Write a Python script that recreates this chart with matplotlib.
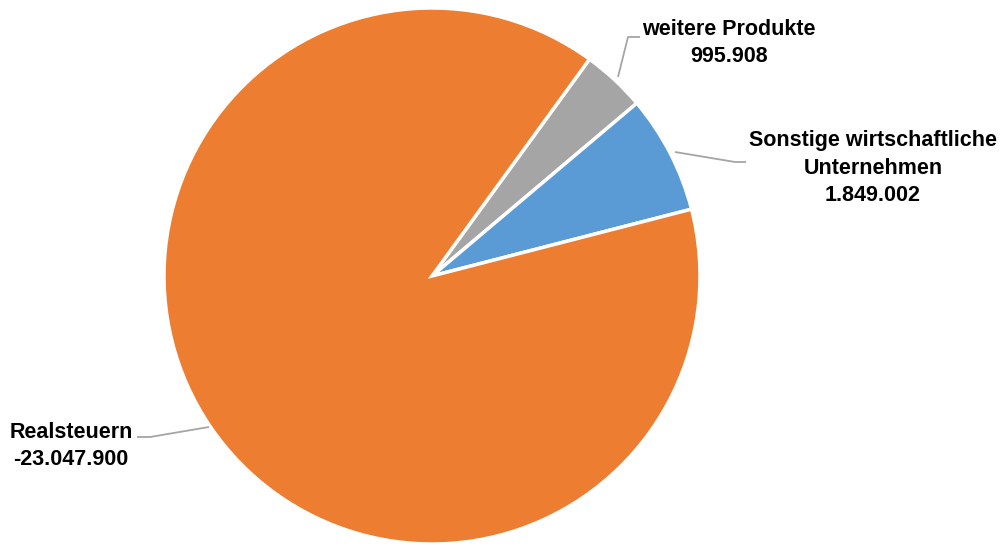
import matplotlib
matplotlib.use("Agg")
import matplotlib.pyplot as plt
import numpy as np

labels = ["weitere Produkte", "Sonstige wirtschaftliche\nUnternehmen", "Realsteuern"]
values = [995908, 1849002, -23047900]
value_texts = ["995.908", "1.849.002", "-23.047.900"]
colors = ["#A5A5A5", "#5B9BD5", "#ED7D31"]

W, H = 1008, 547
fig = plt.figure(figsize=(W / 100, H / 100), dpi=100)
ax = fig.add_axes([0, 0, 1, 1])

cx, cy, r = 432, H - 276, 268
sizes = np.abs(values)
ax.pie(sizes, colors=colors, startangle=54, counterclock=False,
       center=(cx, cy), radius=r, frame=True,
       wedgeprops=dict(edgecolor="white", linewidth=2.5))
ax.set_xlim(0, W)
ax.set_ylim(0, H)
ax.set_aspect("equal")
ax.axis("off")

# leader lines (pixel coords, y from top)
leaders = [
    [(618, 77), (628, 37), (640, 37)],
    [(675, 152), (735, 162), (746, 162)],
    [(209, 427), (150, 437), (137, 437)],
]
for pts in leaders:
    xs = [p[0] for p in pts]
    ys = [H - p[1] for p in pts]
    ax.plot(xs, ys, color="#A5A5A5", linewidth=1.3, solid_capstyle="butt")

text_pos = [(729, 43), (873, 168), (71, 446)]
for lab, vt, (tx, ty) in zip(labels, value_texts, text_pos):
    ax.text(tx, H - ty, lab + "\n" + vt, ha="center", va="center",
            fontsize=15.5, fontweight="bold", family="Liberation Sans",
            linespacing=1.4, color="black")

fig.savefig("out.png", dpi=100)
